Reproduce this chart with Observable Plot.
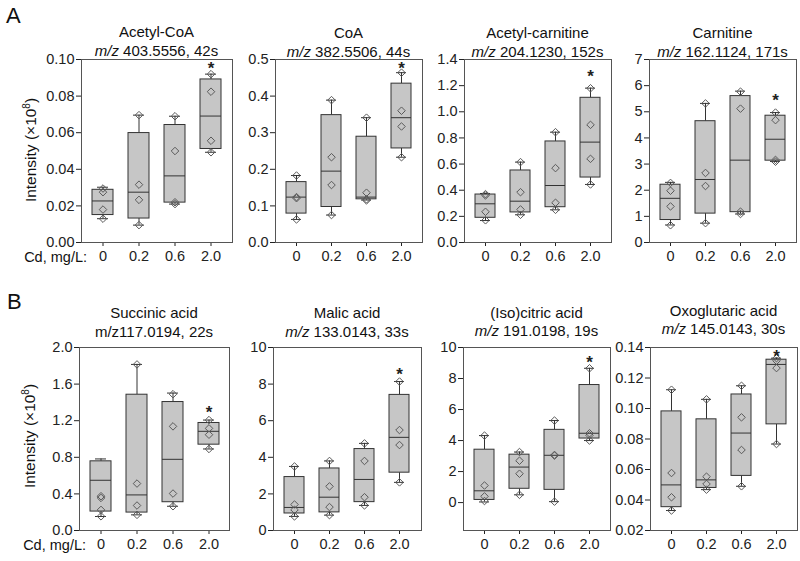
<!DOCTYPE html>
<html><head><meta charset="utf-8">
<script src="https://cdn.jsdelivr.net/npm/d3@7"></script>
<script src="https://cdn.jsdelivr.net/npm/@observablehq/plot@0.6"></script>
<style>
body{margin:0;background:#fff;}
#wrap{position:relative;width:800px;height:561px;font-family:"Liberation Sans",Arial,sans-serif;color:#111;overflow:hidden;background:#fff;}
.abs{position:absolute;white-space:nowrap;line-height:1;}
.ttl{font-size:15px;transform:translate(-50%,-50%);text-align:center;}
svg{position:absolute;}
</style></head><body><div id="wrap"></div>
<script>
// ---- data ----
const groups = ["0", "0.2", "0.6", "2.0"];
const names = ["Acetyl-CoA", "CoA", "Acetyl-carnitine", "Carnitine", "Succinic acid", "Malic acid", "(Iso)citric acid", "Oxoglutaric acid"];
const mzItalic = [true, true, true, true, false, true, true, true];
const mzText = ["403.5556, 42s", "382.5506, 44s", "204.1230, 152s", "162.1124, 171s", "117.0194, 22s", "133.0143, 33s", "191.0198, 19s", "145.0143, 30s"];
const yDomains = [[0, 0.1], [0, 0.5], [0, 1.4], [0, 7], [0, 2], [0, 10], [-1.8, 10], [0.02, 0.14]];
const yTicks = [
  [0, 0.02, 0.04, 0.06, 0.08, 0.10],
  [0, 0.1, 0.2, 0.3, 0.4, 0.5],
  [0, 0.2, 0.4, 0.6, 0.8, 1.0, 1.2, 1.4],
  [0, 1, 2, 3, 4, 5, 6, 7],
  [0, 0.4, 0.8, 1.2, 1.6, 2.0],
  [0, 2, 4, 6, 8, 10],
  [0, 2, 4, 6, 8, 10],
  [0.02, 0.04, 0.06, 0.08, 0.10, 0.12, 0.14]
];
const tickFormats = [".2f", ".1f", ".1f", "d", ".1f", "d", "d", ".2f"];
const whiskerLow = [
  [0.013, 0.0095, 0.021, 0.0493],
  [0.063, 0.075, 0.116, 0.233],
  [0.168, 0.212, 0.25, 0.444],
  [0.67, 0.74, 1.09, 3.10],
  [0.153, 0.171, 0.265, 0.891],
  [0.77, 0.84, 1.37, 2.63],
  [0.04, 0.50, 0.06, 4.0],
  [0.0331, 0.0468, 0.049, 0.0767]
];
const q1 = [
  [0.015, 0.0131, 0.0218, 0.0511],
  [0.079, 0.097, 0.118, 0.257],
  [0.189, 0.230, 0.270, 0.497],
  [0.86, 1.105, 1.16, 3.13],
  [0.207, 0.196, 0.309, 0.938],
  [0.93, 0.99, 1.55, 3.16],
  [0.17, 0.89, 0.82, 4.13],
  [0.0353, 0.0479, 0.0558, 0.0896]
];
const median = [
  [0.0227, 0.0275, 0.0364, 0.0691],
  [0.124, 0.195, 0.124, 0.341],
  [0.296, 0.316, 0.436, 0.768],
  [1.69, 2.41, 3.15, 3.95],
  [0.549, 0.389, 0.778, 1.084],
  [1.26, 1.82, 2.79, 5.09],
  [0.76, 2.29, 3.05, 4.47],
  [0.0499, 0.0532, 0.0839, 0.1289]
];
const q3 = [
  [0.0288, 0.0598, 0.0642, 0.0891],
  [0.165, 0.348, 0.289, 0.434],
  [0.367, 0.551, 0.773, 1.107],
  [2.21, 4.64, 5.60, 4.85],
  [0.756, 1.484, 1.404, 1.175],
  [2.92, 3.39, 4.45, 7.41],
  [3.41, 3.09, 4.69, 7.58],
  [0.0981, 0.0929, 0.1092, 0.132]
];
const whiskerHigh = [
  [0.0302, 0.0696, 0.069, 0.092],
  [0.183, 0.389, 0.341, 0.464],
  [0.375, 0.615, 0.844, 1.181],
  [2.30, 5.32, 5.79, 4.97],
  [0.782, 1.815, 1.502, 1.207],
  [3.50, 3.80, 4.76, 8.14],
  [4.32, 3.26, 5.29, 8.66],
  [0.1123, 0.106, 0.1149, 0.133]
];
const points = [
  [[0.0295, 0.0275, 0.018, 0.013], [0.0696, 0.0316, 0.0233, 0.0095], [0.069, 0.050, 0.022, 0.021], [0.092, 0.0824, 0.0556, 0.0493]],
  [[0.183, 0.124, 0.121, 0.063], [0.389, 0.233, 0.157, 0.075], [0.341, 0.136, 0.118, 0.115], [0.464, 0.36, 0.317, 0.233]],
  [[0.37, 0.36, 0.235, 0.17], [0.615, 0.385, 0.253, 0.212], [0.844, 0.569, 0.304, 0.25], [1.18, 0.90, 0.64, 0.444]],
  [[2.28, 1.98, 1.38, 0.66], [5.32, 2.66, 2.16, 0.74], [5.77, 5.12, 1.18, 1.09], [4.97, 4.68, 3.16, 3.09]],
  [[0.375, 0.356, 0.225, 0.155], [1.815, 0.513, 0.273, 0.171], [1.49, 1.138, 0.404, 0.265], [1.207, 1.116, 1.047, 0.891]],
  [[3.5, 1.42, 1.13, 0.77], [3.80, 2.41, 1.28, 0.84], [4.76, 3.80, 1.82, 1.37], [8.14, 5.49, 4.67, 2.63]],
  [[4.32, 1.10, 0.40, 0.10], [3.26, 2.70, 1.86, 0.50], [5.29, 3.07, 3.03, 0.06], [8.66, 4.47, 4.34, 4.0]],
  [[0.1123, 0.0577, 0.0418, 0.0331], [0.106, 0.0553, 0.0505, 0.0468], [0.1149, 0.0942, 0.0728, 0.049], [0.133, 0.1313, 0.1265, 0.0767]]
];
const starY = [0.097, 0.487, 1.30, 5.58, 1.338, 8.76, 9.3, 0.137];

// ---- layout (pixel frames of each panel) ----
const frameL = [81, 275, 464, 649, 79, 273, 463, 650];
const frameR = [232, 422, 611, 796, 229, 421, 610, 797];
const frameT = [59, 59, 59, 59, 347, 347, 347, 347];
const frameB = [242, 242, 242, 242, 530, 530, 530, 530];
const titleY1 = [31, 32, 32, 32, 312, 312, 312, 310];
const titleY2 = [50, 51, 51, 51, 331, 331, 330, 328];

const wrap = document.getElementById("wrap");
const FONT = '"Liberation Sans", Arial, sans-serif';
const ML = 60, MR = 12, MT = 12, MB = 30;

function addDiv(html, cls, style) {
  const d = document.createElement("div");
  d.className = "abs " + (cls || "");
  d.innerHTML = html;
  Object.assign(d.style, style);
  wrap.appendChild(d);
  return d;
}

for (let p = 0; p < 8; p++) {
  const boxes = groups.map((g, i) => ({g, lo: whiskerLow[p][i], q1: q1[p][i], med: median[p][i], q3: q3[p][i], hi: whiskerHigh[p][i]}));
  const pts = groups.flatMap((g, i) => points[p][i].map(v => ({g, v})));
  const w = frameR[p] - frameL[p], h = frameB[p] - frameT[p];
  const chart = Plot.plot({
    width: w + ML + MR,
    height: h + MT + MB,
    marginLeft: ML, marginRight: MR, marginTop: MT, marginBottom: MB,
    style: {background: "transparent", fontSize: "14.5px", fontFamily: FONT, overflow: "visible", color: "#222"},
    x: {type: "band", domain: groups, paddingInner: 0.42, paddingOuter: 0.29, tickSize: 4, tickPadding: 4, label: null},
    y: {domain: yDomains[p], ticks: yTicks[p], tickFormat: d3.format(tickFormats[p]), tickSize: 5, tickPadding: 2, label: null},
    marks: [
      Plot.ruleX(boxes, {x: "g", y1: "lo", y2: "q1", stroke: "#333", strokeWidth: 1}),
      Plot.ruleX(boxes, {x: "g", y1: "q3", y2: "hi", stroke: "#333", strokeWidth: 1}),
      Plot.tickY(boxes, {x: "g", y: "lo", insetLeft: 5, insetRight: 5, stroke: "#333"}),
      Plot.tickY(boxes, {x: "g", y: "hi", insetLeft: 5, insetRight: 5, stroke: "#333"}),
      Plot.barY(boxes, {x: "g", y1: "q1", y2: "q3", fill: "#c6c6c6", stroke: "#333", strokeWidth: 1}),
      Plot.tickY(boxes, {x: "g", y: "med", stroke: "#333"}),
      Plot.dot(pts, {x: "g", y: "v", symbol: "diamond2", r: 3.4, stroke: "#5a5a5a", fill: "none", strokeWidth: 1}),
      Plot.text([{g: "2.0", y: starY[p]}], {x: "g", y: "y", text: () => "*", fontSize: 17, fontWeight: "bold", dy: 4, fill: "#222"}),
      Plot.frame({stroke: "#555", strokeWidth: 1})
    ]
  });
  chart.style.left = (frameL[p] - ML) + "px";
  chart.style.top = (frameT[p] - MT) + "px";
  wrap.appendChild(chart);

  const cx = (frameL[p] + frameR[p]) / 2;
  addDiv(names[p], "ttl", {left: cx + "px", top: titleY1[p] + "px"});
  const mz = mzItalic[p] ? "<i>m/z</i> " + mzText[p] : "m/z" + mzText[p];
  addDiv(mz, "ttl", {left: cx + "px", top: titleY2[p] + "px"});
}

// Panel letters
addDiv("A", "", {left: "6px", top: "5px", fontSize: "22px"});
addDiv("B", "", {left: "7px", top: "291px", fontSize: "22px"});

// Y-axis labels (first column)
[[30, 150], [29, 436]].forEach(([x, y]) => {
  addDiv("Intensity (×10<sup style='font-size:10px;vertical-align:6px'>8</sup>)", "", {
    left: x + "px", top: y + "px", fontSize: "15.5px", transform: "translate(-50%,-50%) rotate(-90deg)"
  });
});

// Cd, mg/L: labels
[[87, 257], [86, 545]].forEach(([x, y]) => {
  addDiv("Cd, mg/L:", "", {left: x + "px", top: y + "px", fontSize: "14.5px", transform: "translate(-100%,-50%)"});
});
</script></body></html>
